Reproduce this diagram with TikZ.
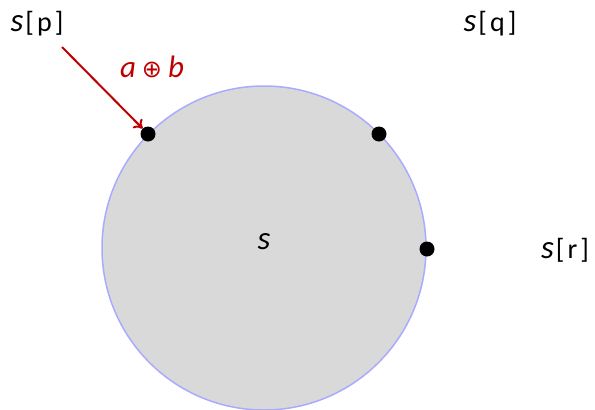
\documentclass[tikz,border=0pt]{standalone}
\usepackage{fontspec}
\setmainfont{Carlito}
\newfontfamily\symfont{DejaVu Sans}
\usetikzlibrary{arrows.meta}
\definecolor{dred}{HTML}{C00000}
\definecolor{cfill}{HTML}{D9D9D9}
\definecolor{cedge}{HTML}{AAAAFF}
\newcommand{\sv}{{\fontsize{33}{33}\selectfont\itshape s}}
\newcommand{\idx}[1]{\sv\hspace{2pt}[\hspace{3pt}#1\hspace{3pt}]}
\tikzset{
  lbl/.style={inner sep=0pt, font=\fontsize{28}{28}\selectfont},
  pt/.style={circle, fill=black, inner sep=0pt, minimum size=15pt},
}
\begin{document}
\begin{tikzpicture}[x=1pt,y=-1pt]
\useasboundingbox (0,0) rectangle (595,410);
\fill[cfill] (264,248) circle (162);
\draw[cedge, line width=1.5pt] (264,248) circle (162);
\node[pt] (p) at (148,134) {};
\node[pt] (q) at (379,134) {};
\node[pt] (r) at (427,249) {};
\node[lbl] (sp) at (37,24) {\idx{p}};
\node[lbl] (sq) at (490,24) {\idx{q}};
\node[lbl] (sr) at (565,250) {\idx{r}};
\node[lbl] (s) at (264,242) {\sv};
\coordinate (a0) at (62,47);
\draw[dred, line width=2pt, -{To[length=8pt,width=13pt]}] (a0) -- (p);
\node[lbl, text=dred, font=\fontsize{31}{31}\selectfont\itshape] (ab) at (152,67) {a\hspace{6pt}{\upshape\symfont\fontsize{24}{24}\selectfont ⊕}\hspace{6pt}b};
\end{tikzpicture}
\end{document}
